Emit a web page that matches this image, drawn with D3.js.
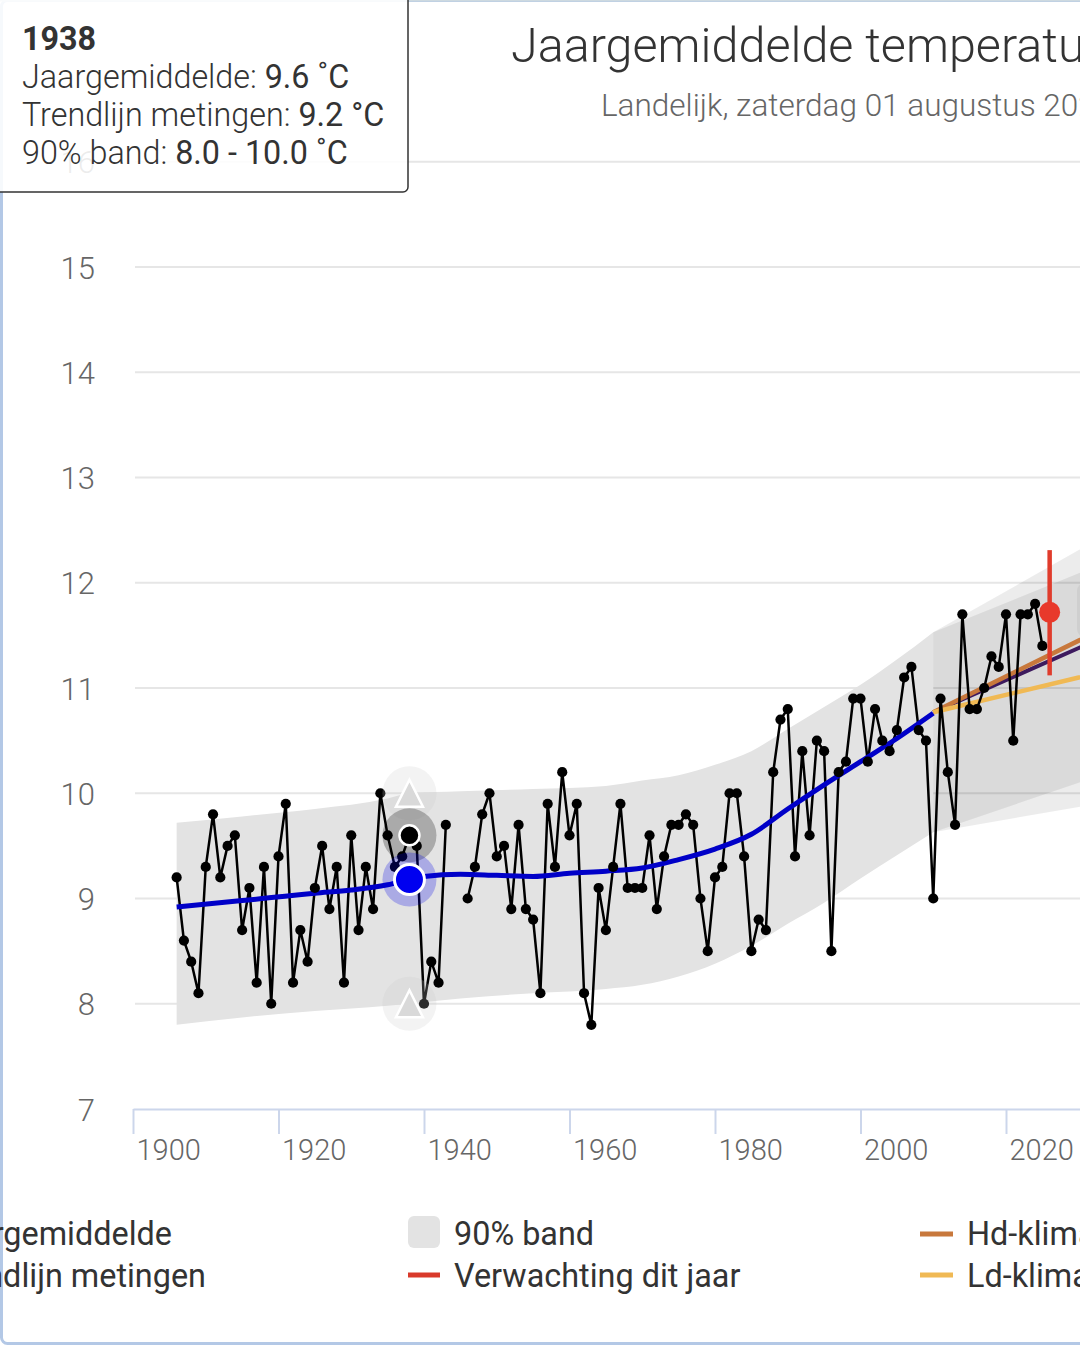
<!DOCTYPE html>
<html><head><meta charset="utf-8">
<script src="https://cdn.jsdelivr.net/npm/d3@7"></script>
<style>
html,body{margin:0;padding:0;overflow:hidden;background:#fff;width:1080px;height:1348px}
svg{display:block;font-family:Roboto,"Noto Sans",sans-serif}
</style>
</head><body>
<svg id="c" width="1300" height="1348"></svg>
<script>
// ---------- data ----------
const years = d3.range(1906, 2026);
const jaargemiddelde = [
 9.2, 8.6, 8.4, 8.1, 9.3, 9.8, 9.2, 9.5, 9.6, 8.7,   // 1906-1915
 9.1, 8.2, 9.3, 8.0, 9.4, 9.9, 8.2, 8.7, 8.4, 9.1,   // 1916-1925
 9.5, 8.9, 9.3, 8.2, 9.6, 8.7, 9.3, 8.9, 10.0, 9.6,  // 1926-1935
 9.3, 9.4, 9.6, 9.5, 8.0, 8.4, 8.2, 9.7, null, null, // 1936-1945
 9.0, 9.3, 9.8, 10.0, 9.4, 9.5, 8.9, 9.7, 8.9, 8.8,  // 1946-1955
 8.1, 9.9, 9.3, 10.2, 9.6, 9.9, 8.1, 7.8, 9.1, 8.7,  // 1956-1965
 9.3, 9.9, 9.1, 9.1, 9.1, 9.6, 8.9, 9.4, 9.7, 9.7,   // 1966-1975
 9.8, 9.7, 9.0, 8.5, 9.2, 9.3, 10.0, 10.0, 9.4, 8.5, // 1976-1985
 8.8, 8.7, 10.2, 10.7, 10.8, 9.4, 10.4, 9.6, 10.5, 10.4, // 1986-1995
 8.5, 10.2, 10.3, 10.9, 10.9, 10.3, 10.8, 10.5, 10.4, 10.6, // 1996-2005
 11.1, 11.2, 10.6, 10.5, 9.0, 10.9, 10.2, 9.7, 11.7, 10.8, // 2006-2015
 10.8, 11.0, 11.3, 11.2, 11.7, 10.5, 11.7, 11.7, 11.8, 11.4 // 2016-2025
];
const trendYears  = [1906, 1915, 1925, 1930, 1935, 1938, 1940, 1945, 1950, 1955, 1960, 1965, 1970, 1975, 1980, 1985, 1990, 1995, 2000, 2005, 2010];
const trendValues = [8.92, 8.98, 9.05, 9.08, 9.13, 9.18, 9.21, 9.23, 9.22, 9.21, 9.24, 9.26, 9.29, 9.37, 9.47, 9.61, 9.85, 10.08, 10.30, 10.52, 10.76];
const bandYears = [1906, 1915, 1925, 1935, 1938, 1945, 1955, 1965, 1970, 1975, 1980, 1985, 1990, 1995, 2000, 2005, 2010];
const bandLow   = [7.80, 7.87, 7.93, 7.98, 8.00, 8.05, 8.10, 8.14, 8.18, 8.26, 8.38, 8.55, 8.76, 8.96, 9.19, 9.41, 9.63];
const bandHigh  = [9.72, 9.78, 9.85, 9.95, 10.00, 10.02, 10.04, 10.07, 10.12, 10.17, 10.27, 10.40, 10.61, 10.82, 11.03, 11.27, 11.53];
const scenYears   = [2010, 2030, 2040];
const hdBandLow   = [9.63, 10.10, 10.35];
const hdBandHigh  = [11.53, 12.31, 12.70];
const ldBandLow   = [9.63, 9.87, 10.00];
const ldBandHigh  = [11.53, 12.09, 12.36];
const hdLine      = [10.77, 11.45, 11.80];
const ldLine      = [10.77, 11.10, 11.26];
const midLine     = [10.77, 11.38, 11.69];
const forecastYear = 2026, forecastValue = 11.72, forecastLow = 11.12, forecastHigh = 12.31;
const highlightYear = 1938;
const yTicks = [7, 8, 9, 10, 11, 12, 13, 14, 15, 16];
const xTicks = [1900, 1920, 1940, 1960, 1980, 2000, 2020];
const titleText = "Jaargemiddelde temperatuur";
const subtitleText = "Landelijk, zaterdag 01 augustus 2026";
const legendCol1 = ["Jaargemiddelde", "Trendlijn metingen"];
const legendCol2 = ["90% band", "Verwachting dit jaar"];
const legendCol3 = ["Hd-klimaatscenario", "Ld-klimaatscenario"];

// ---------- setup ----------
const svg = d3.select("#c");
const x = d3.scaleLinear().domain([1900, 2040]).range([133, 133 + 140 * 7.275]);
const y = d3.scaleLinear().domain([7, 16]).range([1109, 161.75]);
const fmt = d3.format(".1f");

// frame
svg.append("rect").attr("x", 1.5).attr("y", 0.5).attr("width", 1400).attr("height", 1343)
  .attr("rx", 6).attr("fill", "none").attr("stroke", "#b3c8e6").attr("stroke-width", 3);
svg.append("line").attr("x1", 0).attr("x2", 1300).attr("y1", 0.5).attr("y2", 0.5)
  .attr("stroke", "#cdd9e0").attr("stroke-width", 2);

// title
svg.append("text").attr("x", 511).attr("y", 62).attr("font-size", 48.5).attr("font-weight", 300)
  .attr("fill", "#333").text(titleText);
svg.append("text").attr("x", 601).attr("y", 116).attr("font-size", 31.5).attr("font-weight", 300)
  .attr("fill", "#666").text(subtitleText);

// grid
const grid = svg.append("g");
grid.selectAll("line").data(yTicks.filter(v => v > 7)).join("line")
  .attr("x1", 135).attr("x2", 1300)
  .attr("y1", d => y(d)).attr("y2", d => y(d))
  .attr("stroke", "#e6e6e6").attr("stroke-width", 2);

// y labels
const yAxis = svg.append("g").attr("transform", "translate(95,0)")
  .call(d3.axisLeft(y).tickValues(yTicks).tickSize(0).tickPadding(0).tickFormat(d3.format("d")));
yAxis.select(".domain").remove();
yAxis.selectAll("text").attr("font-size", 31).attr("font-weight", 300).attr("fill", "#666")
  .attr("font-family", "Roboto").attr("dy", "0.36em");

// bands
const bandData = bandYears.map((yr, i) => [yr, bandLow[i], bandHigh[i]]);
const area = d3.area().x(d => x(d[0])).y0(d => y(d[1])).y1(d => y(d[2])).curve(d3.curveMonotoneX);
svg.append("path").attr("d", area(bandData)).attr("fill", "#e3e3e3");
const hdBand = scenYears.map((yr, i) => [yr, hdBandLow[i], hdBandHigh[i]]);
const ldBand = scenYears.map((yr, i) => [yr, ldBandLow[i], ldBandHigh[i]]);
const areaLin = d3.area().x(d => x(d[0])).y0(d => y(d[1])).y1(d => y(d[2]));
svg.append("path").attr("d", areaLin(hdBand)).attr("fill", "rgba(0,0,0,0.075)");
svg.append("path").attr("d", areaLin(ldBand)).attr("fill", "rgba(0,0,0,0.075)");

// x axis
const xAxis = svg.append("g").attr("transform", `translate(0,${y(7)})`)
  .call(d3.axisBottom(x).tickValues(xTicks).tickSize(25).tickSizeOuter(0).tickPadding(5).tickFormat(d3.format("d")));
xAxis.select(".domain").attr("stroke", "#ccd6eb").attr("stroke-width", 2);
xAxis.selectAll(".tick line").attr("stroke", "#ccd6eb").attr("stroke-width", 2);
xAxis.selectAll(".tick text").attr("font-size", 29).attr("font-weight", 300).attr("fill", "#666")
  .attr("font-family", "Roboto").attr("text-anchor", "start").attr("x", 3);

// scenario lines
const lineLin = d3.line().x(d => x(d[0])).y(d => y(d[1]));
svg.append("path").attr("d", lineLin(scenYears.map((yr, i) => [yr, midLine[i]])))
  .attr("fill", "none").attr("stroke", "#3d1a5e").attr("stroke-width", 4);
svg.append("path").attr("d", lineLin(scenYears.map((yr, i) => [yr, hdLine[i]])))
  .attr("fill", "none").attr("stroke", "#c8783c").attr("stroke-width", 4.5);
svg.append("path").attr("d", lineLin(scenYears.map((yr, i) => [yr, ldLine[i]])))
  .attr("fill", "none").attr("stroke", "#f0b954").attr("stroke-width", 4.5);

// observations line
const obs = years.map((yr, i) => [yr, jaargemiddelde[i]]);
const obsLine = d3.line().defined(d => d[1] != null).x(d => x(d[0])).y(d => y(d[1]));
svg.append("path").attr("d", obsLine(obs)).attr("fill", "none").attr("stroke", "#000").attr("stroke-width", 2.5);

// trend line
const trend = trendYears.map((yr, i) => [yr, trendValues[i]]);
svg.append("path").attr("d", d3.line().x(d => x(d[0])).y(d => y(d[1])).curve(d3.curveMonotoneX)(trend))
  .attr("fill", "none").attr("stroke", "#0000c8").attr("stroke-width", 5);

// observation points
svg.append("g").selectAll("circle").data(obs.filter(d => d[1] != null)).join("circle")
  .attr("cx", d => x(d[0])).attr("cy", d => y(d[1])).attr("r", 5.1).attr("fill", "#000");

// forecast
svg.append("line").attr("x1", x(forecastYear)).attr("x2", x(forecastYear))
  .attr("y1", y(forecastLow)).attr("y2", y(forecastHigh))
  .attr("stroke", "#e03c2c").attr("stroke-width", 4.5);
svg.append("circle").attr("cx", x(forecastYear)).attr("cy", y(forecastValue)).attr("r", 10.5).attr("fill", "#e8392b");

// partial label box on right edge
svg.append("rect").attr("x", 1077).attr("y", 583).attr("width", 80).attr("height", 54).attr("rx", 8)
  .attr("fill", "#cfcfcf");

// highlight at 1938
const hi = years.indexOf(highlightYear);
const hiVal = jaargemiddelde[hi];
const tIdx = trendYears.indexOf(highlightYear);
const hiTrend = trendValues[tIdx];
const bIdx = bandYears.indexOf(highlightYear);
const hiLow = bandLow[bIdx], hiHigh = bandHigh[bIdx];
const hx = x(highlightYear);
function triPath(cx, cy, w, h) {
  const p = d3.path();
  p.moveTo(cx, cy - h / 2); p.lineTo(cx + w / 2, cy + h / 2); p.lineTo(cx - w / 2, cy + h / 2); p.closePath();
  return p.toString();
}
[hiHigh, hiLow].forEach(v => {
  svg.append("circle").attr("cx", hx).attr("cy", y(v)).attr("r", 27).attr("fill", "rgba(200,200,200,0.22)");
  svg.append("path").attr("d", triPath(hx, y(v), 27, 27))
    .attr("fill", "#d9d9d9").attr("stroke", "#fff").attr("stroke-width", 2.5);
});
svg.append("circle").attr("cx", hx).attr("cy", y(hiVal)).attr("r", 27).attr("fill", "rgba(0,0,0,0.25)");
svg.append("circle").attr("cx", hx).attr("cy", y(hiVal)).attr("r", 10).attr("fill", "#000")
  .attr("stroke", "#fff").attr("stroke-width", 2.5);
svg.append("circle").attr("cx", hx).attr("cy", y(hiTrend)).attr("r", 27).attr("fill", "rgba(0,0,230,0.25)");
svg.append("circle").attr("cx", hx).attr("cy", y(hiTrend)).attr("r", 15).attr("fill", "#0000f0")
  .attr("stroke", "#fff").attr("stroke-width", 3);

// legend
const lg = svg.append("g").attr("font-size", 32.4).attr("fill", "#333").attr("font-family", "Roboto");
lg.append("text").attr("x", 172).attr("y", 1245).attr("text-anchor", "end").text(legendCol1[0]);
lg.append("text").attr("x", 206).attr("y", 1287).attr("text-anchor", "end").text(legendCol1[1]);
lg.append("rect").attr("x", 408).attr("y", 1216).attr("width", 32).attr("height", 32).attr("rx", 6).attr("fill", "#e3e3e3");
lg.append("text").attr("x", 454).attr("y", 1245).text(legendCol2[0]);
lg.append("line").attr("x1", 408).attr("x2", 440).attr("y1", 1275).attr("y2", 1275).attr("stroke", "#d93a2b").attr("stroke-width", 5);
lg.append("text").attr("x", 454).attr("y", 1287).text(legendCol2[1]);
lg.append("line").attr("x1", 920).attr("x2", 953).attr("y1", 1234).attr("y2", 1234).attr("stroke", "#c8783c").attr("stroke-width", 5);
lg.append("text").attr("x", 967).attr("y", 1245).text(legendCol3[0]);
lg.append("line").attr("x1", 920).attr("x2", 953).attr("y1", 1275).attr("y2", 1275).attr("stroke", "#f0b954").attr("stroke-width", 5);
lg.append("text").attr("x", 967).attr("y", 1287).text(legendCol3[1]);

// tooltip
const tt = svg.append("g");
tt.append("rect").attr("x", -6).attr("y", -6).attr("width", 414).attr("height", 198).attr("rx", 5)
  .attr("fill", "rgba(255,255,255,0.88)").attr("stroke", "#333").attr("stroke-width", 1.5);
const tf = tt.append("g").attr("font-size", 32.3).attr("fill", "#333").attr("font-family", "Roboto");
tf.append("text").attr("x", 22).attr("y", 50).attr("font-weight", 700).text(highlightYear);
const rows = [
  ["Jaargemiddelde: ", fmt(hiVal) + " \u02DAC"],
  ["Trendlijn metingen: ", fmt(hiTrend) + " \u00B0C"],
  ["90% band: ", fmt(hiLow) + " - " + fmt(hiHigh) + " \u02DAC"]
];
rows.forEach((r, i) => {
  const t = tf.append("text").attr("x", 22).attr("y", 88 + i * 38);
  t.append("tspan").attr("font-weight", 300).text(r[0]);
  t.append("tspan").attr("font-weight", 400).text(r[1]);
});
</script>
</body></html>
